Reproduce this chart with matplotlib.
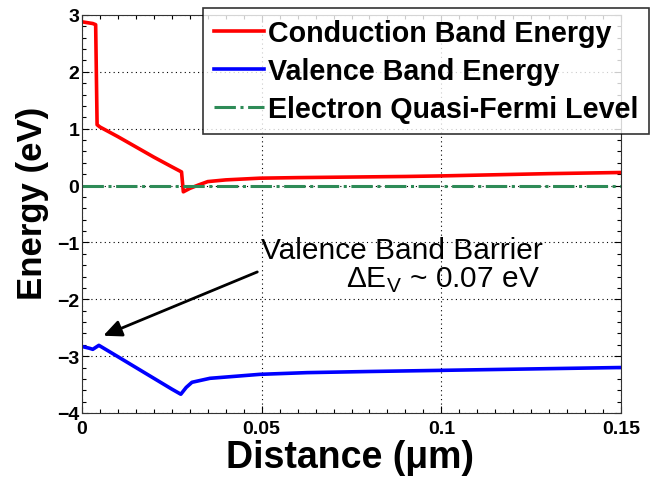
import matplotlib
matplotlib.use("Agg")
import matplotlib.pyplot as plt
from matplotlib.ticker import MultipleLocator

plt.rcParams['font.family'] = ['Liberation Sans', 'DejaVu Sans']
plt.rcParams['mathtext.fontset'] = 'custom'
plt.rcParams['mathtext.rm'] = 'Liberation Sans'

# Data
cb_x = [0, 0.003, 0.0038, 0.0042, 0.0050, 0.010, 0.015, 0.020, 0.025, 0.0277,
        0.0282, 0.0300, 0.0324, 0.035, 0.040, 0.0495, 0.060, 0.075, 0.090, 0.100,
        0.115, 0.130, 0.150]
cb_y = [2.88, 2.85, 2.83, 1.07, 1.03, 0.86, 0.68, 0.50, 0.33, 0.24,
        -0.11, -0.05, 0.01, 0.07, 0.10, 0.13, 0.14, 0.15, 0.16, 0.17,
        0.19, 0.21, 0.23]
vb_x = [0, 0.002, 0.003, 0.0047, 0.010, 0.015, 0.020, 0.025, 0.0275, 0.0290,
        0.0306, 0.0356, 0.0495, 0.0626, 0.080, 0.100, 0.120, 0.150]
vb_y = [-2.83, -2.86, -2.88, -2.81, -3.01, -3.20, -3.39, -3.58, -3.67, -3.55,
        -3.46, -3.39, -3.32, -3.29, -3.27, -3.25, -3.23, -3.20]
fermi_x = [0, 0.15]
fermi_y = [0, 0]

labels = ['Conduction Band Energy', 'Valence Band Energy', 'Electron Quasi-Fermi Level']
x_ticks = [0, 0.05, 0.1, 0.15]
x_ticklabels = ['0', '0.05', '0.1', '0.15']
y_ticks = [-4, -3, -2, -1, 0, 1, 2, 3]

W, H = 656, 489
fig = plt.figure(figsize=(W / 100, H / 100), dpi=100)
ax = fig.add_axes([82 / W, 1 - 414 / H, (621 - 82) / W, (414 - 16) / H])

ax.plot(cb_x, cb_y, color='#FF0000', lw=2.6, label=labels[0])
ax.plot(vb_x, vb_y, color='#0000FF', lw=2.6, label=labels[1])
ax.plot(fermi_x, fermi_y, color='#2E8B57', lw=2.2, dashes=(7, 1.5, 1, 1.5),
        label=labels[2])

ax.set_xlim(0, 0.15)
ax.set_ylim(-4, 3)
ax.set_xticks(x_ticks)
ax.set_xticklabels(x_ticklabels)
ax.set_yticks(y_ticks)
ax.xaxis.set_minor_locator(MultipleLocator(0.005))
ax.yaxis.set_minor_locator(MultipleLocator(0.2))
ax.tick_params(which='both', direction='in', top=True, right=True, width=0.8)
ax.tick_params(which='major', length=5, labelsize=14)
ax.tick_params(axis='x', which='major', pad=5)
ax.tick_params(axis='y', which='major', pad=2)
ax.tick_params(which='minor', length=3)
for lab in ax.get_xticklabels() + ax.get_yticklabels():
    lab.set_fontweight('bold')
ax.grid(True, which='major', color='black', linestyle=(0, (1, 3)), lw=0.8)
for s in ax.spines.values():
    s.set_linewidth(0.8)
    s.set_color('#333333')

ax.set_xlabel('Distance (\u03bcm)', fontsize=27, fontweight='bold')
ax.xaxis.set_label_coords(0.497, -0.066)
ax.set_ylabel('Energy (eV)', fontsize=25, fontweight='bold')
ax.yaxis.set_label_coords(-0.062, 0.53)

ax.annotate('', xy=(0.0052, -2.66), xytext=(0.0495, -1.50),
            arrowprops=dict(arrowstyle='-|>,head_length=1.1,head_width=0.5',
                            color='black', lw=2))
ax.text(0.0497, -1.274, 'Valence Band Barrier', fontsize=21.5, ha='left',
        va='baseline')
ax.text(0.0735, -1.78, r'$\Delta$E$_\mathregular{V}$ ~ 0.07 eV', fontsize=21.5,
        ha='left', va='baseline')

leg = ax.legend(loc='upper left', bbox_to_anchor=(203 / W, 1 - 9 / H),
                bbox_transform=fig.transFigure,
                prop={'weight': 'bold', 'size': 20.6}, frameon=True,
                fancybox=False, edgecolor='black', handlelength=1.75,
                handletextpad=0.15, borderpad=0.38, labelspacing=0.36,
                borderaxespad=0)
leg.get_frame().set_linewidth(1.2)
leg.set_clip_on(False)

fig.savefig('out.png', dpi=100)
